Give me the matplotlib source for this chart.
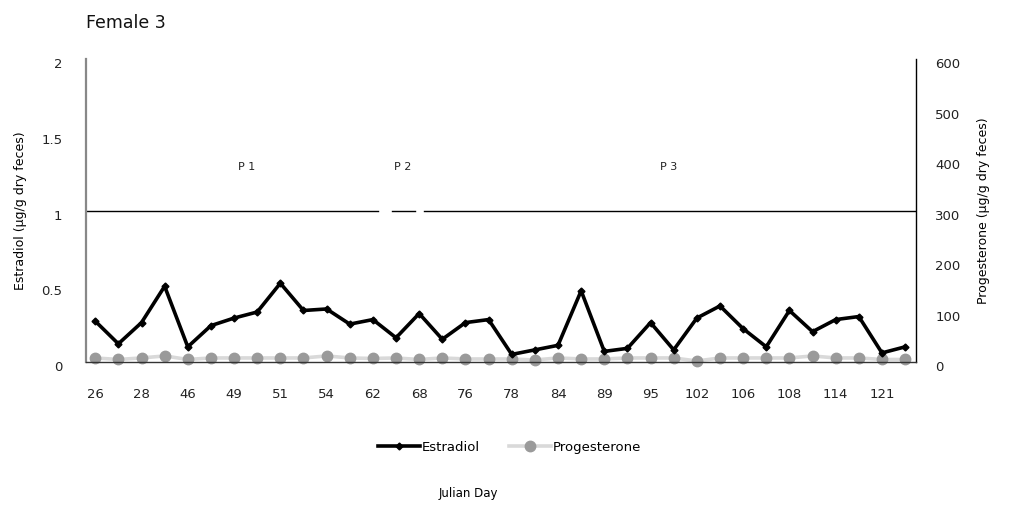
import matplotlib
matplotlib.use("Agg")
import matplotlib.pyplot as plt
from matplotlib.lines import Line2D
from matplotlib.transforms import ScaledTranslation

plt.rcParams['font.family'] = ['DejaVu Sans']

# sampling days (36 samples, every other one labelled on the axis)
tick_labels = ['26', '28', '46', '49', '51', '54', '62', '68', '76',
               '78', '84', '89', '95', '102', '106', '108', '114', '121']

estradiol = [0.27, 0.12, 0.26, 0.50, 0.10, 0.24, 0.29, 0.33, 0.52, 0.34,
             0.35, 0.25, 0.28, 0.16, 0.32, 0.15, 0.26, 0.28, 0.05, 0.08,
             0.11, 0.47, 0.07, 0.09, 0.26, 0.08, 0.29, 0.37, 0.22, 0.10,
             0.34, 0.20, 0.28, 0.30, 0.06, 0.10]

progesterone = [8, 5, 8, 12, 5, 8, 8, 8, 8, 8,
                12, 8, 7, 8, 5, 8, 6, 6, 6, 4,
                8, 6, 6, 8, 8, 8, 2, 8, 8, 8,
                8, 12, 8, 8, 5, 5]

phases = ['P 1', 'P 2', 'P 3']
phase_x = [6.55, 13.3, 24.8]

x = list(range(len(estradiol)))

fig = plt.figure(figsize=(10.09, 5.07), dpi=100)
ax = fig.add_axes([0.0852, 0.286, 0.8226, 0.5976])
ax2 = ax.twinx()

ax.plot(x, estradiol, color='black', lw=2.6, marker='D', ms=3.5,
        zorder=3, label='Estradiol')
ax2.plot(x, progesterone, color='#d9d9d9', lw=2.6, marker='o', ms=7.5,
         mfc='#9a9a9a', mec='#9a9a9a', zorder=2, label='Progesterone',
         clip_on=False)
# keep estradiol above the progesterone axes
ax.set_zorder(ax2.get_zorder() + 1)
ax.patch.set_visible(False)

xmin, xmax = -0.4, 35.47
ax.set_xlim(xmin, xmax)
ax.set_ylim(0, 2)
ax2.set_ylim(0, 600)

# phase boundary line at estradiol = 1, broken around P 2
for a, b in [(xmin, 12.23), (12.83, 13.83), (14.22, xmax)]:
    ax.plot([a, b], [1, 1], color='black', lw=1, zorder=1)
for lab, px in zip(phases, phase_x):
    ax.text(px, 1.29, lab, fontsize=8, ha='center', va='center', color='#222222')

ax.set_xticks(x[::2])
ax.set_xticklabels(tick_labels)
ax.set_yticks([0, 0.5, 1, 1.5, 2])
ax.set_yticklabels(['0', '0.5', '1', '1.5', '2'])
ax2.set_yticks(range(0, 601, 100))

ax.tick_params(axis='x', length=0, pad=19, labelsize=9.5, colors='#222222')
ax.tick_params(axis='y', length=0, pad=17, labelsize=9.5, colors='#222222')
ax2.tick_params(axis='y', length=0, pad=14, labelsize=9.5, colors='#222222')

# value labels sit slightly below their gridline positions
shift = ScaledTranslation(0, -4 / 100, fig.dpi_scale_trans)
for lbl in ax.get_yticklabels() + ax2.get_yticklabels():
    lbl.set_transform(lbl.get_transform() + shift)

for a in (ax, ax2):
    for side in ('top', 'left', 'right', 'bottom'):
        a.spines[side].set_visible(False)
ax.spines['left'].set_visible(True)
ax.spines['left'].set_color('#888888')
ax.spines['left'].set_linewidth(1.6)
ax.spines['bottom'].set_visible(True)
ax.spines['bottom'].set_color('#333333')
ax.spines['bottom'].set_linewidth(1)
ax2.spines['right'].set_visible(True)
ax2.spines['right'].set_color('black')
ax2.spines['right'].set_linewidth(1)

ax.set_ylabel('Estradiol (µg/g dry feces)', fontsize=9, labelpad=10)
ax2.set_ylabel('Progesterone (µg/g dry feces)', fontsize=9, labelpad=12)

fig.text(0.0852, 0.955, 'Female 3', fontsize=12.5, ha='left', va='center',
         color='#111111')
fig.text(0.464, 0.026, 'Julian Day', fontsize=8.5, ha='center', va='center')

handles = [
    Line2D([], [], color='black', lw=2.6, marker='D', ms=3.5),
    Line2D([], [], color='#d9d9d9', lw=2.6, marker='o', ms=7.5,
           mfc='#9a9a9a', mec='#9a9a9a'),
]
fig.legend(handles, ['Estradiol', 'Progesterone'], loc='center',
           bbox_to_anchor=(0.505, 0.118), ncol=2, frameon=False,
           fontsize=9.5, handlelength=3.2, handletextpad=0.1,
           columnspacing=2.2)

fig.savefig('out.png', dpi=100)
